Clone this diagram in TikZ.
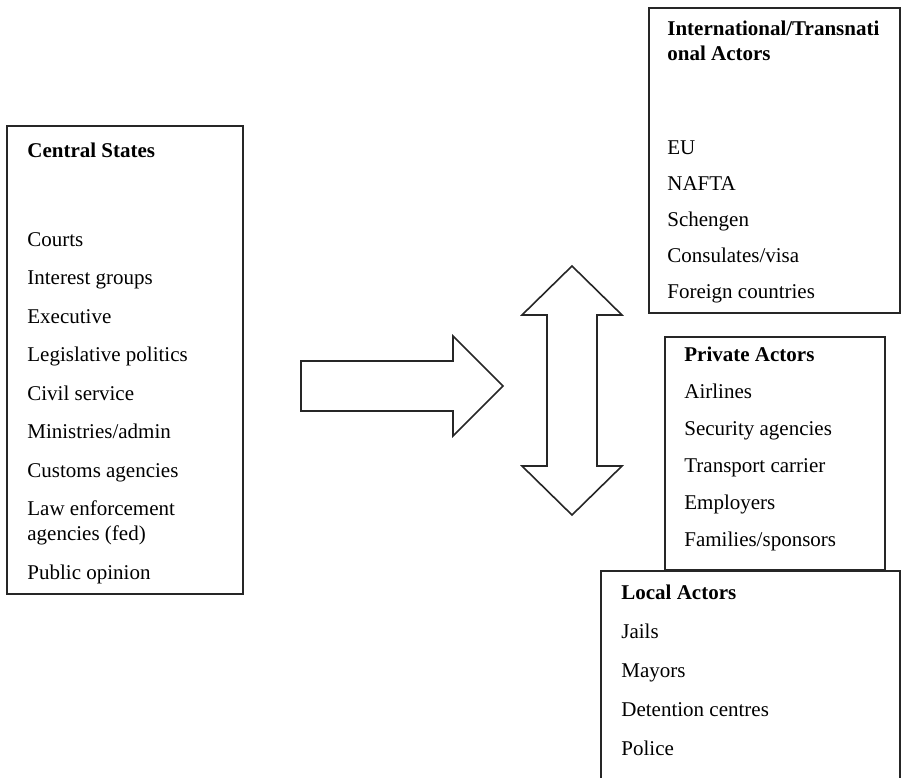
\documentclass[tikz,border=0pt]{standalone}
\usepackage{fontspec}
\setmainfont{Liberation Serif}
\usetikzlibrary{positioning}

\begin{document}
\begin{tikzpicture}[x=0.5pt, y=-0.5pt,
        box/.style={draw=black!85, line width=0.8pt, rectangle, anchor=north west, inner sep=0pt},
        head/.style={anchor=base west, inner sep=0pt, font=\fontsize{10.5}{12.6}\selectfont\bfseries},
        item/.style={anchor=base west, inner sep=0pt, font=\fontsize{10.5}{12.6}\selectfont},
        blockarrow/.style={draw=black!85, line width=0.8pt, line join=miter, fill=white}
    ]
        \clip (0,0) rectangle (902,778);

        % the four boxes
        \node [box, minimum width=118pt, minimum height=234pt] (central) at (6,125) {};
        \node [box, minimum width=125.5pt, minimum height=152.5pt] (transnat) at (648,7) {};
        \node [box, minimum width=149.5pt, minimum height=115pt] (local) at (600,570) {};
        \node [box, minimum width=110pt, minimum height=116.5pt] (private) at (664,336) {};

        % central states
        \node [head] (cs-title) at (27,157) {Central States};
        \node [item] (cs-courts) at (27,246) {Courts};
        \node [item] (cs-interest) at (27,284.5) {Interest groups};
        \node [item] (cs-exec) at (27,323) {Executive};
        \node [item] (cs-legis) at (27,361.5) {Legislative politics};
        \node [item] (cs-civil) at (27,400) {Civil service};
        \node [item] (cs-admin) at (27,438.5) {Ministries/admin};
        \node [item] (cs-customs) at (27,477) {Customs agencies};
        \node [item] (cs-law) at (27,515.5) {Law enforcement};
        \node [item] (cs-fed) at (27,540.5) {agencies (fed)};
        \node [item] (cs-opinion) at (27,579) {Public opinion};

        % international actors
        \node [head] (tn-title) at (667,35) {International/Transnati};
        \node [head] (tn-title2) at (667,60) {onal Actors};
        \node [item] (tn-eu) at (667,154) {EU};
        \node [item] (tn-nafta) at (667,190) {NAFTA};
        \node [item] (tn-schengen) at (667,226) {Schengen};
        \node [item] (tn-visa) at (667,262) {Consulates/visa};
        \node [item] (tn-foreign) at (667,298) {Foreign countries};

        % private actors
        \node [head] (pa-title) at (684,361) {Private Actors};
        \node [item] (pa-airlines) at (684,398) {Airlines};
        \node [item] (pa-security) at (684,435) {Security agencies};
        \node [item] (pa-transport) at (684,472) {Transport carrier};
        \node [item] (pa-employers) at (684,509) {Employers};
        \node [item] (pa-families) at (684,546) {Families/sponsors};

        % local actors
        \node [head] (la-title) at (621,599) {Local Actors};
        \node [item] (la-jails) at (621,638) {Jails};
        \node [item] (la-mayors) at (621,677) {Mayors};
        \node [item] (la-detention) at (621,716) {Detention centres};
        \node [item] (la-police) at (621,755) {Police};

        % block arrows
        \draw [blockarrow] (301,361) -- (453,361) -- (453,336) -- (503,386)
            -- (453,436) -- (453,411) -- (301,411) -- cycle;
        \draw [blockarrow] (572,266) -- (622,315) -- (597,315) -- (597,466)
            -- (622,466) -- (572,515) -- (522,466) -- (547,466)
            -- (547,315) -- (522,315) -- cycle;
    \end{tikzpicture}
\end{document}
